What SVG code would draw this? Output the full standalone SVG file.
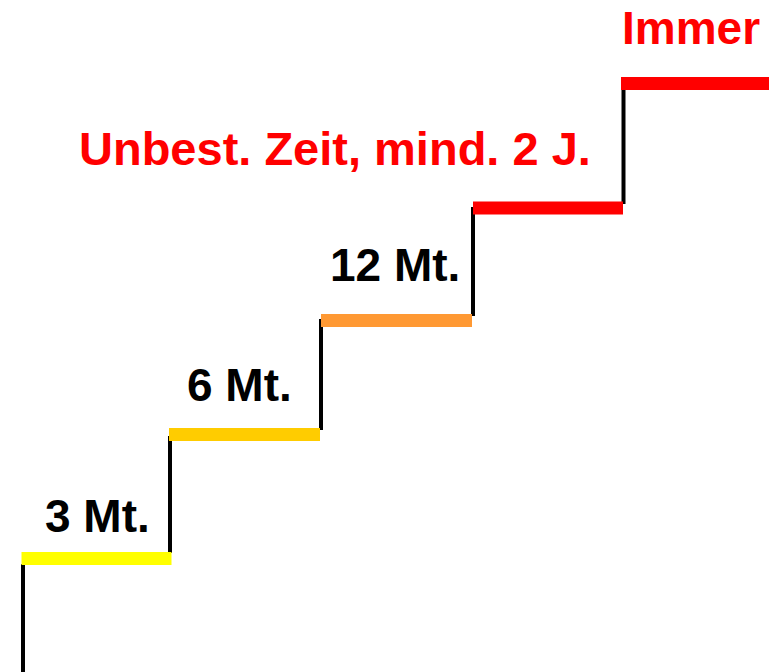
<svg xmlns="http://www.w3.org/2000/svg" width="769" height="672" viewBox="0 0 769 672">
  <style>
    .tread { stroke-width: 13; stroke-linecap: butt; fill: none; }
    .riser { stroke: #000; stroke-width: 4; fill: none; }
    .label { font-family: "Liberation Sans", Arial, sans-serif; font-weight: bold; font-size: 46px; }
    .dark { fill: #000; }
    .alert { fill: #FF0000; }
  </style>
  <rect width="769" height="672" fill="#fff"/>

  <!-- vertical risers joining the steps -->
  <g id="risers">
    <line class="riser" x1="23" y1="564" x2="23" y2="672"/>
    <line class="riser" x1="170" y1="436" x2="170" y2="553"/>
    <line class="riser" x1="321" y1="319" x2="321" y2="430"/>
    <line class="riser" x1="473" y1="207" x2="473" y2="316"/>
    <line class="riser" x1="623.5" y1="83" x2="623.5" y2="204"/>
  </g>

  <g id="step-3-months">
    <line class="tread" stroke="#FFFF00" x1="21.5" y1="558.5" x2="171.5" y2="558.5"/>
    <text class="label dark" x="45" y="532">3 Mt.</text>
  </g>

  <g id="step-6-months">
    <line class="tread" stroke="#FFCC00" x1="169" y1="434.5" x2="320" y2="434.5"/>
    <text class="label dark" x="187" y="401">6 Mt.</text>
  </g>

  <g id="step-12-months">
    <line class="tread" stroke="#FF9933" x1="321" y1="320.5" x2="472" y2="320.5"/>
    <text class="label dark" x="330" y="281">12 Mt.</text>
  </g>

  <g id="step-indefinite">
    <line class="tread" stroke="#FF0000" x1="473" y1="208" x2="623" y2="208"/>
    <text class="label alert" x="79" y="165" style="font-size:47px">Unbest. Zeit, mind. 2 J.</text>
  </g>

  <g id="step-always">
    <line class="tread" stroke="#FF0000" x1="621" y1="83.5" x2="769" y2="83.5"/>
    <text class="label alert" x="622" y="44">Immer</text>
  </g>
</svg>
